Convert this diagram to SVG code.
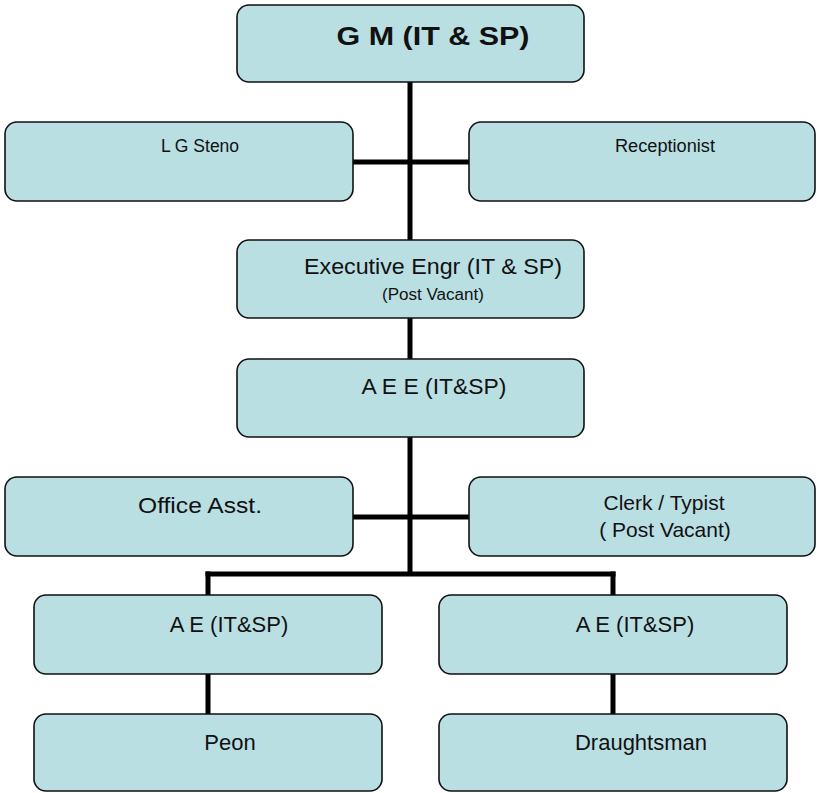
<svg xmlns="http://www.w3.org/2000/svg" width="817" height="793" viewBox="0 0 817 793">
<style>
.box{fill:#BADFE3;stroke:#111;stroke-width:1.6}
.t{font-family:"Liberation Sans",Arial,sans-serif;fill:#111;text-anchor:middle}
.conn line{stroke:#000;stroke-width:5;stroke-linecap:butt}
</style>
<rect width="817" height="793" fill="#fff"/>
<g class="conn" id="connectors">
<line x1="410" y1="82" x2="410" y2="240"/>
<line x1="353" y1="162" x2="469" y2="162"/>
<line x1="410" y1="318" x2="410" y2="359"/>
<line x1="410" y1="437" x2="410" y2="576"/>
<line x1="353" y1="517" x2="469" y2="517"/>
<line x1="205.5" y1="574" x2="615.5" y2="574"/>
<line x1="208" y1="571.5" x2="208" y2="595"/>
<line x1="613" y1="571.5" x2="613" y2="595"/>
<line x1="208" y1="674" x2="208" y2="714"/>
<line x1="613" y1="674" x2="613" y2="714"/>
</g>
<g id="gm">
<rect class="box" x="237" y="5" width="347" height="77" rx="12"/>
<text class="t" x="433" y="45" font-size="26" font-weight="bold" textLength="193" lengthAdjust="spacingAndGlyphs">G M (IT &amp; SP)</text>
</g>
<g id="lgsteno">
<rect class="box" x="5" y="122" width="348" height="79" rx="12"/>
<text class="t" x="200" y="152" font-size="17.5">L G Steno</text>
</g>
<g id="receptionist">
<rect class="box" x="469" y="122" width="346" height="79" rx="12"/>
<text class="t" x="665" y="152" font-size="17.5" textLength="100" lengthAdjust="spacingAndGlyphs">Receptionist</text>
</g>
<g id="exec">
<rect class="box" x="237" y="240" width="347" height="78" rx="12"/>
<text class="t" x="433" y="274" font-size="22" textLength="258" lengthAdjust="spacingAndGlyphs">Executive Engr (IT &amp; SP)</text>
<text class="t" x="433" y="300" font-size="16" textLength="102" lengthAdjust="spacingAndGlyphs">(Post Vacant)</text>
</g>
<g id="aee">
<rect class="box" x="237" y="359" width="347" height="78" rx="12"/>
<text class="t" x="434" y="394" font-size="22" textLength="145" lengthAdjust="spacingAndGlyphs">A E E (IT&amp;SP)</text>
</g>
<g id="office">
<rect class="box" x="5" y="477" width="348" height="79" rx="12"/>
<text class="t" x="200" y="513" font-size="22" textLength="124" lengthAdjust="spacingAndGlyphs">Office Asst.</text>
</g>
<g id="clerk">
<rect class="box" x="469" y="477" width="346" height="79" rx="12"/>
<text class="t" x="664" y="510" font-size="21">Clerk / Typist</text>
<text class="t" x="665" y="537" font-size="21">( Post Vacant)</text>
</g>
<g id="ae1">
<rect class="box" x="34" y="595" width="348" height="79" rx="12"/>
<text class="t" x="229" y="632" font-size="22">A E (IT&amp;SP)</text>
</g>
<g id="ae2">
<rect class="box" x="439" y="595" width="348" height="79" rx="12"/>
<text class="t" x="635" y="632" font-size="22">A E (IT&amp;SP)</text>
</g>
<g id="peon">
<rect class="box" x="34" y="714" width="348" height="77" rx="12"/>
<text class="t" x="230" y="750" font-size="22">Peon</text>
</g>
<g id="draughtsman">
<rect class="box" x="439" y="714" width="348" height="77" rx="12"/>
<text class="t" x="641" y="750" font-size="22">Draughtsman</text>
</g>
</svg>
